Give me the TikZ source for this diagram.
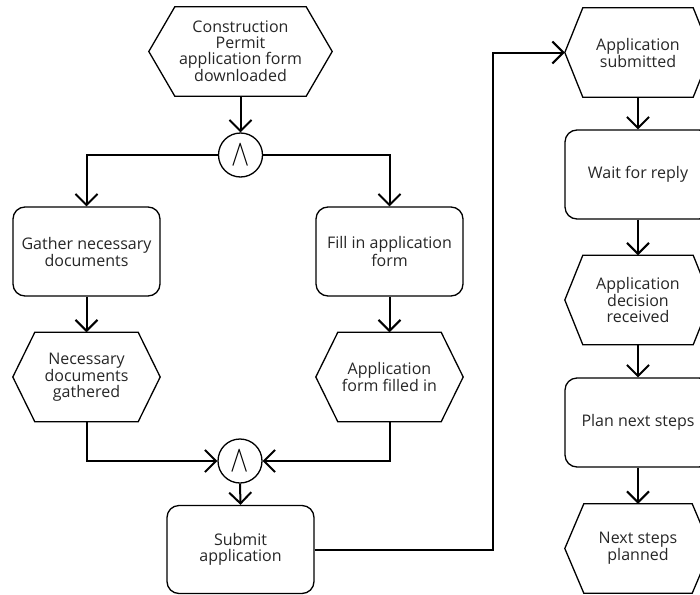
\documentclass[tikz,border=0pt]{standalone}
\usepackage{fontspec}
\setmainfont{Open Sans}
\usetikzlibrary{arrows.meta}
\begin{document}
\begin{tikzpicture}[x=1pt,y=-1pt,
  base/.style={inner sep=0pt, align=center, font=\fontsize{16}{15.8}\selectfont, text=black!85},
  fn/.style={base, draw, line width=1.3pt, rounded corners=12pt, minimum width=147pt, minimum height=89pt},
  ev/.style={base, minimum width=147pt, minimum height=89pt},
  gate/.style={circle, draw, line width=1.3pt, minimum size=44pt, inner sep=0pt, fill=white,
    font=\fontsize{32}{32}\selectfont},
  flow/.style={line width=2pt, -{Straight Barb[length=11pt,width=22pt,line width=2pt]}},
  rim/.style={line width=1.3pt, line join=miter}]
\useasboundingbox (0,0) rectangle (700,594);
\clip (0,0) rectangle (700,594);

% events (hexagons are drawn around these nodes below)
\node[ev, minimum width=183pt] (e0) at (240.5,51.5) {Construction\\Permit\\application form\\downloaded};
\node[ev] (e1) at (86.5,377) {Necessary\\documents\\gathered};
\node[ev] (e2) at (389.5,377) {Application\\form filled in};
\node[ev, minimum width=146pt] (e3) at (638,52.5) {Application\\submitted};
\node[ev, minimum width=146pt] (e4) at (638,300) {Application\\decision\\received};
\node[ev, minimum width=146pt] (e5) at (638,548.5) {Next steps\\planned};

% functions
\node[fn] (f1) at (86.5,251.5) {Gather necessary\\documents};
\node[fn] (f2) at (389.5,251.5) {Fill in application\\form};
\node[fn, minimum height=88pt] (f3) at (240.5,549.5) {Submit\\application};
\node[fn, minimum width=146pt] (f4) at (638,174.5) {Wait for reply};
\node[fn, minimum width=146pt] (f5) at (638,422.5) {Plan next steps};

% AND connectors
\node[gate] (a1) at (240.5,155) {\scalebox{1.1}[1.5]{$\wedge$}};
\node[gate] (a2) at (240,461) {\scalebox{1.1}[1.5]{$\wedge$}};

% hexagon outlines
\foreach \n/\d in {e0/26, e1/22, e2/22, e3/18, e4/18, e5/19}
  \draw[rim] (\n.west) -- ([xshift=\d pt]\n.north west) -- ([xshift=-\d pt]\n.north east)
    -- (\n.east) -- ([xshift=-\d pt]\n.south east) -- ([xshift=\d pt]\n.south west) -- cycle;

% control flow
\draw[flow] (e0.south) -- (a1.north);
\draw[flow] (a1.west) -| (f1.north);
\draw[flow] (a1.east) -| (f2.north);
\draw[flow] (f1.south) -- (e1.north);
\draw[flow] (f2.south) -- (e2.north);
\draw[flow] (e1.south) |- (a2.west);
\draw[flow] (e2.south) |- (a2.east);
\draw[flow] (a2.south) -- (f3.north);
\coordinate (jog) at (493,52.5);
\draw[flow] (f3.east) -| (jog) -- (e3.west);
\draw[flow] (e3.south) -- (f4.north);
\draw[flow] (f4.south) -- (e4.north);
\draw[flow] (e4.south) -- (f5.north);
\draw[flow] (f5.south) -- (e5.north);
\end{tikzpicture}
\end{document}
